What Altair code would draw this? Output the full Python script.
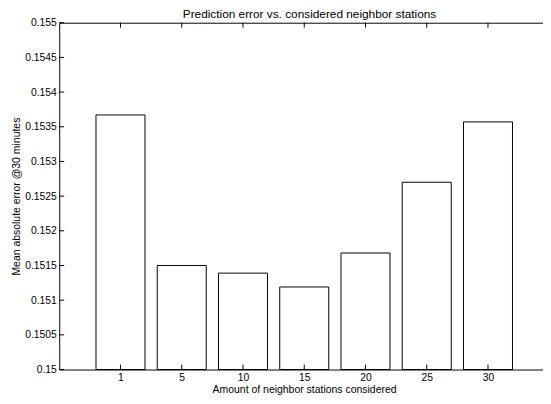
import altair as alt
import pandas as pd

# ---- data ----
neighbors = ["1", "5", "10", "15", "20", "25", "30"]
errors = [0.15367, 0.15150, 0.15139, 0.15119, 0.15168, 0.15270, 0.15357]
y_ticks = [0.15, 0.1505, 0.151, 0.1515, 0.152, 0.1525, 0.153, 0.1535, 0.154, 0.1545, 0.155]

W, H = 491, 352
XMAX = 7.898
FONT = "Liberation Sans"

df = pd.DataFrame({
    "pos": list(range(1, len(neighbors) + 1)),
    "label": neighbors,
    "err": errors,
})
ydf = pd.DataFrame({"err": y_ticks})
one = pd.DataFrame({"k": [0]})

label_expr = "[" + ",".join(f"'{n}'" for n in neighbors) + "][datum.value - 1]"

xscale = alt.Scale(domain=[0, XMAX], nice=False, zero=False)
yscale = alt.Scale(domain=[0.15, 0.155], nice=False, zero=False)

x_axis = alt.Axis(
    values=list(range(1, len(neighbors) + 1)), labelExpr=label_expr,
    title="Amount of neighbor stations considered",
    titleX=248.5, titleY=23.5,
)
y_axis = alt.Axis(
    values=y_ticks, format=".4~f",
    title="Mean absolute error @30 minutes",
    titleX=-40, titleY=H / 2,
)

bars = alt.Chart(df).transform_calculate(
    x0="datum.pos - 0.4", x1="datum.pos + 0.4"
).mark_rect(fill="white", stroke="black", strokeWidth=1).encode(
    x=alt.X("x0:Q", scale=xscale, axis=x_axis),
    x2="x1:Q",
    y=alt.Y("err:Q", scale=yscale, axis=y_axis),
    y2=alt.datum(0.15),
)

y_ticks_layer = alt.Chart(ydf).mark_rule(color="black", strokeWidth=1).encode(
    y=alt.Y("err:Q", scale=yscale, axis=y_axis),
    x=alt.value(0), x2=alt.value(5),
)

x_ticks_bottom = alt.Chart(df).mark_rule(color="black", strokeWidth=1).encode(
    x=alt.X("pos:Q", scale=xscale, axis=x_axis),
    y=alt.value(H), y2=alt.value(H - 5),
)
x_ticks_top = alt.Chart(df).mark_rule(color="black", strokeWidth=1).encode(
    x=alt.X("pos:Q", scale=xscale, axis=x_axis),
    y=alt.value(0), y2=alt.value(5),
)
top_border = alt.Chart(one).mark_rule(color="black", strokeWidth=1).encode(
    x=alt.value(0), x2=alt.value(W), y=alt.value(0.5),
)

chart = alt.layer(bars, y_ticks_layer, x_ticks_bottom, x_ticks_top, top_border).properties(
    width=W, height=H,
    padding={"left": 52, "top": 12, "right": 0, "bottom": 28},
    autosize=alt.AutoSizeParams(type="none"),
    title=alt.TitleParams(
        "Prediction error vs. considered neighbor stations",
        font=FONT, fontSize=12, fontWeight="normal", color="black",
        anchor="middle", frame="group", dx=8.5, dy=3.4, offset=0,
    ),
).configure_view(stroke=None).configure_axis(
    ticks=False, grid=False, domainColor="black", domainWidth=1,
    labelFont=FONT, labelFontSize=10.5, labelColor="black",
    labelFlush=False, labelOverlap=False,
    titleFont=FONT, titleFontSize=10.6, titleFontWeight="normal",
    titleColor="black", titleBaseline="alphabetic",
).configure_axisX(labelPadding=3.5).configure_axisY(labelPadding=3)

chart.save("out.html", embed_options={"renderer": "svg", "actions": False})
